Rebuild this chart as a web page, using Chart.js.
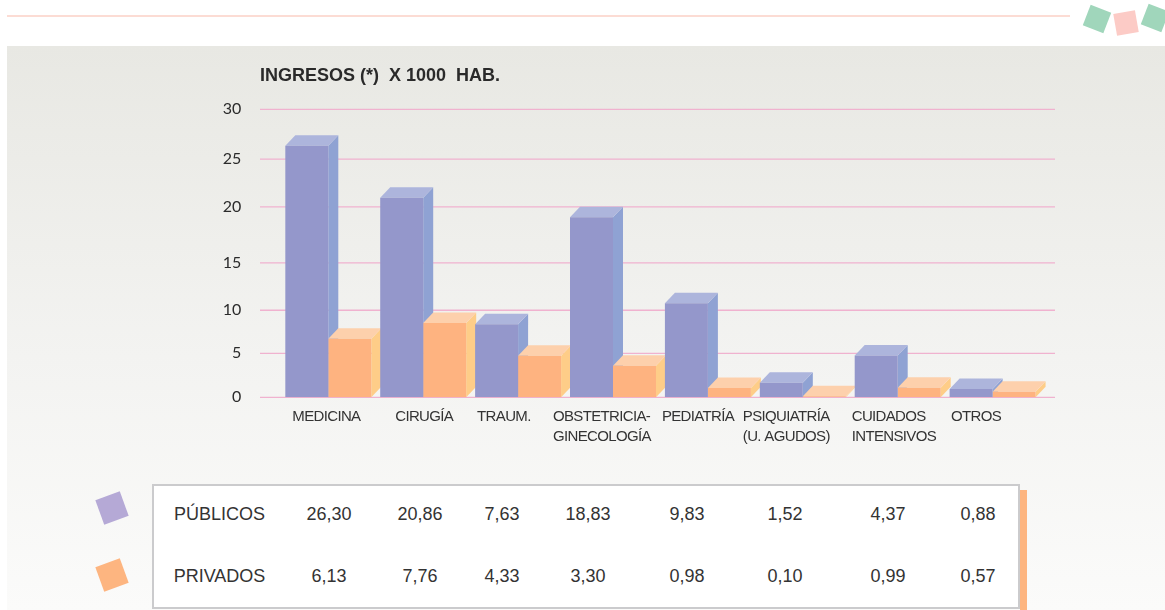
<!DOCTYPE html>
<html lang="es">
<head>
<meta charset="utf-8">
<title>Ingresos x 1000 hab.</title>
<script src="https://cdn.jsdelivr.net/npm/chart.js@4/dist/chart.umd.min.js"></script>
<style>
  html, body { margin: 0; padding: 0; background: #fff; overflow: hidden; }
  #page { position: relative; width: 1165px; height: 610px; overflow: hidden; font-family: "Liberation Sans", Arial, sans-serif; color: #333; }
  #rule { position: absolute; left: 7px; top: 15px; width: 1063px; height: 2px; background: #fcdcd4; }
  #panel { position: absolute; left: 7px; top: 46px; right: 0; bottom: 0; background: linear-gradient(#e8e8e3, #f3f3f1 55%, #fbfbfa); }
  #chart { position: absolute; left: 0; top: 0; }
  #title { position: absolute; left: 260px; top: 66px; font-weight: bold; font-size: 18px; line-height: 18px; white-space: pre; color: #2a2a2a; }
  .sq { position: absolute; }
  #strip { position: absolute; left: 1020px; top: 490px; width: 7px; height: 120px; background: #fdb580; }
  #box { position: absolute; left: 152px; top: 484px; width: 864px; height: 121px; background: #fff; border: 2px solid #cbcbcd; }
  .cell { position: absolute; font-size: 18px; line-height: 20px; white-space: nowrap; transform: translateX(-50%); }
</style>
</head>
<body>
<div id="page">
  <div id="rule"></div>
  <div id="panel"></div>
  <div class="sq" style="left:1086px;top:8px;width:22px;height:22px;background:#a0d6bb;transform:rotate(21deg)"></div>
  <div class="sq" style="left:1115px;top:12px;width:22px;height:22px;background:#fccbc6;transform:rotate(-10deg)"></div>
  <div class="sq" style="left:1144px;top:7px;width:22px;height:22px;background:#a0d6bb;transform:rotate(21deg)"></div>
  <canvas id="chart" width="1165" height="460"></canvas>
  <div id="title">INGRESOS (*)  X 1000  HAB.</div>
  <div class="sq" style="left:99px;top:495px;width:26px;height:26px;background:#b5a9d6;transform:rotate(-20deg)"></div>
  <div class="sq" style="left:99px;top:562px;width:26px;height:26px;background:#fdb580;transform:rotate(-20deg)"></div>
  <div id="strip"></div>
  <div id="box"></div>
</div>
<script>
const categories = [
  ["MEDICINA"],
  ["CIRUGÍA"],
  ["TRAUM."],
  ["OBSTETRICIA-", "GINECOLOGÍA"],
  ["PEDIATRÍA"],
  ["PSIQUIATRÍA", "(U. AGUDOS)"],
  ["CUIDADOS", "INTENSIVOS"],
  ["OTROS"],
];
const publicos = [26.30, 20.86, 7.63, 18.83, 9.83, 1.52, 4.37, 0.88];
const privados = [6.13, 7.76, 4.33, 3.30, 0.98, 0.10, 0.99, 0.57];

// The reference's axis is unevenly drawn: "15", "10" and "5" sit lower than
// their real values, so the labels and the tick positions are kept apart
const tickLabels = ["0", "5", "10", "15", "20", "25", "30"];
const tickValues = [0, 4.6, 9.1, 14.05, 19.9, 24.9, 30.1];

// Left edge of each category label, relative to the category centre
const labelOffsets = [-36, -28, -41, -60, -46, -60, -46, -41.6];

// Table columns centre x
const columnX = [329, 420, 502, 588, 687, 785, 888, 978];

const depthX = 10;
const depthY = 10.5;
const faces = [
  { top: "#adb5dc", side: "#8fa2d3" },
  { top: "#fdd0ac", side: "#fecd88" },
];

// Grid lines run past the chart area on both sides, and the 3D faces go under the bars
const depthPlugin = {
  id: "depth",
  beforeDatasetsDraw(chart) {
    const ctx = chart.ctx;
    const y = chart.scales.y;
    ctx.save();
    ctx.strokeStyle = "#f0b2cf";
    ctx.lineWidth = 1.3;
    tickValues.forEach((v) => {
      const py = y.getPixelForValue(v);
      ctx.beginPath();
      ctx.moveTo(260, py);
      ctx.lineTo(1055, py);
      ctx.stroke();
    });
    categories.forEach((_, i) => {
      chart.data.datasets.forEach((ds, d) => {
        const bar = chart.getDatasetMeta(d).data[i];
        const left = bar.x - bar.width / 2;
        const right = bar.x + bar.width / 2;
        ctx.fillStyle = faces[d].side;
        ctx.beginPath();
        ctx.moveTo(right, bar.y);
        ctx.lineTo(right + depthX, bar.y - depthY);
        ctx.lineTo(right + depthX, bar.base - depthY);
        ctx.lineTo(right, bar.base);
        ctx.closePath();
        ctx.fill();
        ctx.fillStyle = faces[d].top;
        ctx.beginPath();
        ctx.moveTo(left, bar.y);
        ctx.lineTo(left + depthX, bar.y - depthY);
        ctx.lineTo(right + depthX, bar.y - depthY);
        ctx.lineTo(right, bar.y);
        ctx.closePath();
        ctx.fill();
      });
    });
    ctx.restore();
  },
  // Category labels are left aligned and off centre, the tick options can't do that
  afterDraw(chart) {
    const ctx = chart.ctx;
    const x = chart.scales.x;
    ctx.save();
    ctx.font = '15px "Liberation Sans"';
    ctx.letterSpacing = "-0.65px";
    ctx.fillStyle = "#333";
    ctx.textAlign = "left";
    ctx.textBaseline = "alphabetic";
    categories.forEach((lines, i) => {
      const px = x.getPixelForValue(i) + labelOffsets[i];
      lines.forEach((line, n) => ctx.fillText(line, px, 420.5 + n * 20.5));
    });
    ctx.restore();
  },
};

new Chart(document.getElementById("chart"), {
  type: "bar",
  plugins: [depthPlugin],
  data: {
    labels: categories,
    datasets: [
      { label: "PÚBLICOS", data: publicos, backgroundColor: "#9497cb" },
      { label: "PRIVADOS", data: privados, backgroundColor: "#feb380" },
    ],
  },
  options: {
    responsive: false,
    animation: false,
    datasets: { bar: { categoryPercentage: 0.906, barPercentage: 1 } },
    layout: { padding: { left: 0, right: 124.95, top: 109.3, bottom: 62.7 } },
    plugins: { legend: { display: false }, tooltip: { enabled: false } },
    scales: {
      x: {
        grid: { display: false },
        border: { display: false },
        ticks: { display: false },
        afterFit: (scale) => { scale.height = 0; },
      },
      y: {
        min: 0,
        max: 30.1,
        grid: { display: false, drawTicks: false },
        border: { display: false },
        afterBuildTicks: (scale) => { scale.ticks = tickValues.map((v) => ({ value: v })); },
        afterFit: (scale) => { scale.width = 280.85; },
        ticks: {
          autoSkip: false,
          padding: 39.5,
          color: "#2b2b2b",
          font: { family: "Lato", size: 16 },
          callback: (_, i) => tickLabels[i],
        },
      },
    },
  },
});

// Table under the chart
const page = document.getElementById("page");
const addCell = (text, x, y) => {
  const el = document.createElement("div");
  el.className = "cell";
  el.textContent = text;
  el.style.left = x + "px";
  el.style.top = y + "px";
  page.appendChild(el);
};
const fmt = (v) => v.toFixed(2).replace(".", ",");
addCell("PÚBLICOS", 219.5, 504);
addCell("PRIVADOS", 219.5, 566);
columnX.forEach((x, i) => {
  addCell(fmt(publicos[i]), x, 504);
  addCell(fmt(privados[i]), x, 566);
});
</script>
</body>
</html>
